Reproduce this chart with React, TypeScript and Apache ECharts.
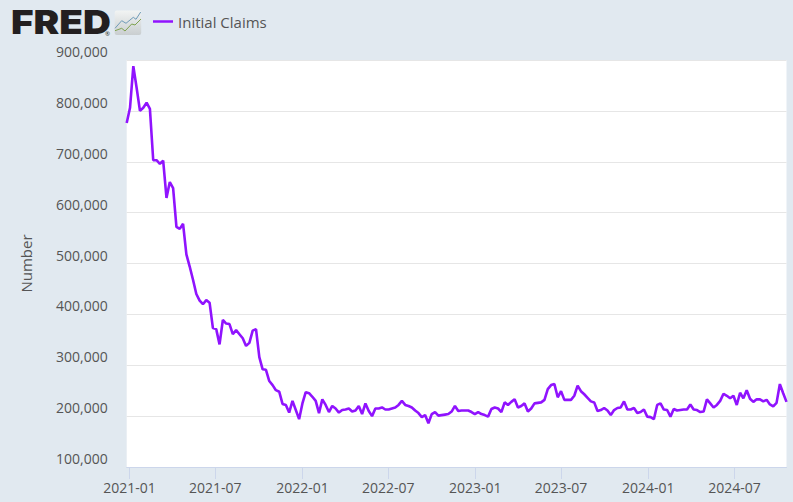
import React, { useEffect, useRef } from "react";
import * as echarts from "echarts";

const seriesName = "Initial Claims";
const yAxisName = "Number";
const firstWeek = "2020-12-26";
const tickLabels = ["2021-01", "2021-07", "2022-01", "2022-07", "2023-01", "2023-07", "2024-01", "2024-07"];
const claimsThousands2021 = [
  776, 806, 888, 845, 800, 806, 816, 804, 703, 703, 696, 702, 629, 660, 648, 572, 568, 578, 518, 494,
  468, 440, 427, 420, 428, 423, 373, 371, 341, 389, 382, 381, 361, 369, 361, 353, 338, 344, 368, 371,
  316, 292, 291, 269, 261, 251, 248, 224, 222, 207, 230, 212, 194,
];
const claimsThousands2022 = [
  225, 247, 245, 238, 230, 206, 233, 222, 208, 220, 215, 207, 212, 213, 215, 209, 211, 220, 204, 225,
  210, 200, 215, 215, 217, 213, 213, 215, 217, 222, 230, 222, 220, 217, 211, 206, 198, 202, 186, 204,
  208, 201, 202, 203, 204, 209, 220, 210, 211, 211, 211, 208,
];
const claimsThousands2023 = [
  204, 208, 204, 202, 199, 214, 217, 215, 208, 227, 222, 228, 233, 217, 220, 225, 209, 215, 225, 226,
  227, 232, 253, 261, 263, 237, 249, 232, 232, 232, 240, 260, 249, 243, 236, 229, 227, 210, 212, 216,
  211, 202, 212, 216, 217, 229, 213, 213, 216, 206, 208, 213,
];
const claimsThousands2024 = [
  199, 198, 194, 222, 225, 213, 212, 199, 214, 211, 212, 213, 213, 223, 213, 212, 208, 209, 233, 225,
  217, 222, 230, 244, 240, 235, 240, 222, 246, 235, 251, 234, 228, 233, 233, 229, 232, 223, 219, 226,
  263, 245, 228,
];

const claims = [...claimsThousands2021, ...claimsThousands2022, ...claimsThousands2023, ...claimsThousands2024].map((v) => v * 1000);
const WEEK = 7 * 24 * 3600 * 1000;
const start = Date.parse(firstWeek + "T00:00:00Z");
const points = claims.map((v, i) => [start + i * WEEK, v]);
const tickValues = tickLabels.map((t) => Date.parse(t + "-01T00:00:00Z"));

export default function App() {
  const ref = useRef<HTMLDivElement>(null);
  useEffect(() => {
    const chart = echarts.init(ref.current!, null, { renderer: "svg" });
    chart.setOption({
      animation: false,
      backgroundColor: "#e1e9f0",
      textStyle: { fontFamily: "Open Sans" },
      grid: { left: 126.7, right: 6.5, top: 60, bottom: 35, show: true, backgroundColor: "#ffffff", borderWidth: 0 },
      legend: {
        left: 148,
        top: 9,
        icon: "rect",
        itemWidth: 20,
        itemHeight: 2.5,
        itemGap: 6,
        data: [seriesName],
        textStyle: { fontFamily: "Open Sans", fontSize: 15, color: "#555555" },
      },
      xAxis: {
        type: "value",
        scale: true,
        min: start,
        max: points[points.length - 1][0],
        axisLine: { show: true, lineStyle: { color: "#ccd6eb", width: 1 } },
        axisTick: { show: true, length: 12, customValues: tickValues, lineStyle: { color: "#ccd6eb", width: 1 } },
        axisLabel: {
          customValues: tickValues,
          margin: 13,
          fontSize: 14,
          color: "#555555",
          fontFamily: "Open Sans",
          formatter: (v: number) => new Date(v).toISOString().slice(0, 7),
        },
        splitLine: { show: false },
      },
      yAxis: {
        type: "value",
        min: 100000,
        max: 900000,
        interval: 100000,
        name: yAxisName,
        nameLocation: "middle",
        nameGap: 93,
        nameTextStyle: { fontSize: 15, color: "#555555", fontFamily: "Open Sans" },
        axisLine: { show: false },
        axisTick: { show: false },
        axisLabel: {
          margin: 19,
          fontSize: 14,
          color: "#555555",
          fontFamily: "Open Sans",
          verticalAlign: "bottom",
          lineHeight: 17,
          formatter: (v: number) => v.toLocaleString("en-US"),
        },
        splitLine: { show: true, lineStyle: { color: "#e6e6e6", width: 1 } },
      },
      series: [
        {
          type: "line",
          name: seriesName,
          data: points,
          showSymbol: false,
          lineStyle: { color: "#9013fe", width: 2.6 },
          itemStyle: { color: "#9013fe" },
        },
      ],
      graphic: [
        {
          type: "text",
          x: 11,
          y: 5.5,
          scaleX: 1.17,
          style: { text: "FRED", fontFamily: "Inter", fontWeight: 900, fontSize: 33, fill: "#231f20" },
        },
        { type: "text", x: 105, y: 30.5, style: { text: "®", fontFamily: "Open Sans", fontSize: 6, fill: "#231f20" } },
        {
          type: "rect",
          shape: { x: 114.7, y: 10.5, width: 26.5, height: 24.5, r: 2 },
          style: {
            fill: new echarts.graphic.LinearGradient(0, 0, 0, 1, [
              { offset: 0, color: "#f2f4f3" },
              { offset: 1, color: "#c9ced0" },
            ]),
          },
        },
        {
          type: "polyline",
          shape: { points: [[115, 28.3], [121.7, 20.7], [126, 23.3], [133.3, 17.3], [136, 19.3], [140.7, 12]] },
          style: { stroke: "#6f9bb8", lineWidth: 1, fill: "none" },
        },
        {
          type: "polyline",
          shape: { points: [[115, 30.7], [121.7, 28.3], [125, 31], [131.7, 24], [135, 25], [141, 19]] },
          style: { stroke: "#7fa24f", lineWidth: 1, fill: "none" },
        },
      ],
    });
    return () => chart.dispose();
  }, []);
  return <div ref={ref} style={{ position: "absolute", left: 0, top: 0, width: 793, height: 502 }} />;
}
